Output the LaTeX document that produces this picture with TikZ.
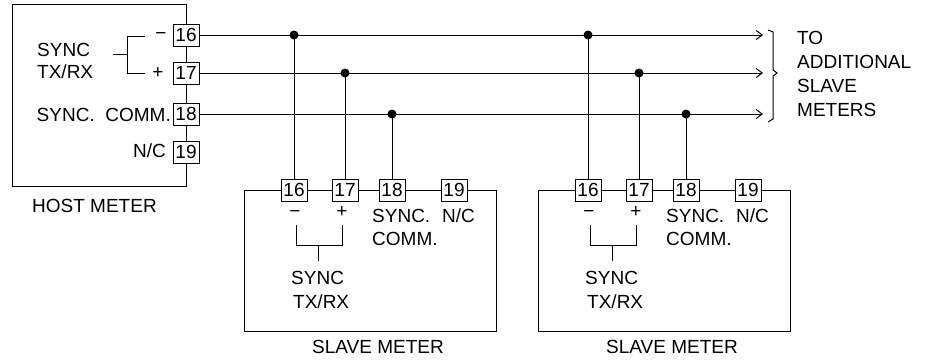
\documentclass[tikz,border=0pt]{standalone}
\usepackage{fontspec}
\setmainfont{Liberation Sans}
\usetikzlibrary{arrows.meta}
\begin{document}
\begin{tikzpicture}[x=1pt,y=-1pt,
  term/.style={draw, line width=1pt, fill=white, minimum width=26pt, minimum height=22pt, inner sep=0pt, font=\fontsize{19}{19}\selectfont},
  lbl/.style={inner sep=0pt, font=\fontsize{19}{24}\selectfont},
  wire/.style={line width=1pt},
  arrwire/.style={line width=1pt, -{Straight Barb[length=6pt,width=9pt,line width=1pt]}},
  jdot/.style={circle, fill=black, inner sep=0pt, minimum size=9pt},
  meter/.style={draw, line width=1pt, inner sep=0pt}]
\useasboundingbox (0,0) rectangle (928,360);

% host meter
\node[meter, minimum width=174pt, minimum height=182pt, anchor=north west] (host) at (12,4) {};
\node[term] (h16) at (186,35) {16};
\node[term] (h17) at (186,73) {17};
\node[term] (h18) at (186,114) {18};
\node[term] (h19) at (186,152) {19};
\node[lbl, anchor=base west] (hsync) at (37,56) {SYNC};
\node[lbl, anchor=base west] (htx) at (37,78) {TX/RX};
\node[lbl] (hminus) at (161,36) {−};
\node[lbl] (hplus) at (158,73) {+};
\node[lbl, anchor=base east] (hcomm) at (171,121) {SYNC.\ \ COMM.};
\node[lbl, anchor=base east] (hnc) at (166,157) {N/C};
\node[lbl, anchor=base west] (hname) at (32,212) {HOST METER};
\draw[wire] (113,54) -- (127,54);
\draw[wire] (145,36) -- (127,36) -- (127,73) -- (145,73);

% bus ends
\coordinate (e16) at (763,35);
\coordinate (e17) at (763,73);
\coordinate (e18) at (763,114);
\draw[arrwire] (h16.east) -- (e16);
\draw[arrwire] (h17.east) -- (e17);
\draw[arrwire] (h18.east) -- (e18);

% brace and note
\draw[wire] (768,30) -- (773,32) -- (773,70) -- (777,73) -- (773,76) -- (773,119) -- (768,122);
\node[lbl, anchor=base west] (to1) at (797,44) {TO};
\node[lbl, anchor=base west] (to2) at (797,68) {ADDITIONAL};
\node[lbl, anchor=base west] (to3) at (797,92) {SLAVE};
\node[lbl, anchor=base west] (to4) at (797,116) {METERS};

% slave meters
\foreach \i/\dx in {1/0, 2/294} {
  \begin{scope}[xshift=\dx pt]
    \node[meter, minimum width=252pt, minimum height=141pt, anchor=north west] (sm\i) at (244,190) {};
    \node[term] (s\i t16) at (294,190) {16};
    \node[term] (s\i t17) at (345,190) {17};
    \node[term] (s\i t18) at (392,190) {18};
    \node[term] (s\i t19) at (454,190) {19};
    \node[lbl] (s\i minus) at (295,214) {−};
    \node[lbl] (s\i plus) at (342,212) {+};
    \node[lbl, anchor=base west] (s\i sc) at (372,222) {SYNC.};
    \node[lbl, anchor=base west] (s\i nc) at (442,222) {N/C};
    \node[lbl, anchor=base west] (s\i cm) at (372,245) {COMM.};
    \node[lbl, anchor=base west] (s\i sy) at (291,284) {SYNC};
    \node[lbl, anchor=base west] (s\i tx) at (293,308) {TX/RX};
    \node[lbl, anchor=base] (s\i name) at (378,353) {SLAVE METER};
    \draw[wire] (296,225) -- (296,245) -- (342,245) -- (342,225);
    \draw[wire] (318,245) -- (318,261);
  \end{scope}
  \draw[wire] (s\i t16.north) -- (s\i t16 |- h16) node[jdot] {};
  \draw[wire] (s\i t17.north) -- (s\i t17 |- h17) node[jdot] {};
  \draw[wire] (s\i t18.north) -- (s\i t18 |- h18) node[jdot] {};
}
\end{tikzpicture}
\end{document}
